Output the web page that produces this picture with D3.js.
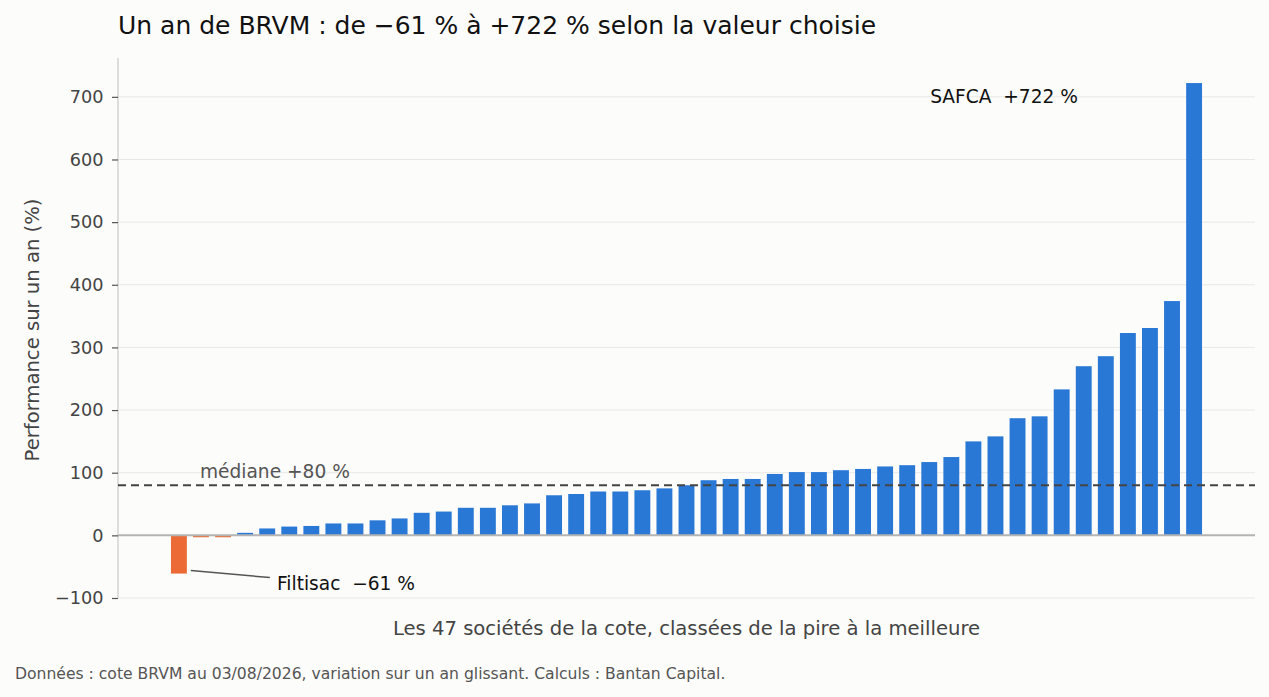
<!DOCTYPE html>
<html>
<head>
<meta charset="utf-8">
<script src="https://cdn.jsdelivr.net/npm/d3@7"></script>
<style>
  html, body { margin: 0; padding: 0; background: #fcfcfa; }
  svg { display: block; font-family: "DejaVu Sans", sans-serif; }
  text { white-space: pre; }
</style>
</head>
<body>
<svg id="chart" width="1269" height="697"></svg>
<script>
// one-year performance of every listed company, sorted worst to best (%)
const PERFORMANCE = [
  -61, -3, -3, 4, 11, 14, 15, 19, 19, 24, 27, 36, 38, 44, 44, 48, 51,
  64, 66, 70, 70, 72, 75, 80, 88, 90, 90, 98, 101, 101, 104, 106, 110,
  112, 117, 125, 150, 158, 187, 190, 233, 270, 286, 323, 331, 374, 722
];
const MEDIAN = 80;
const Y_TICKS = [-100, 0, 100, 200, 300, 400, 500, 600, 700];
const TITLE = "Un an de BRVM : de \u221261 % \u00e0 +722 % selon la valeur choisie";
const Y_LABEL = "Performance sur un an (%)";
const X_LABEL = "Les 47 soci\u00e9t\u00e9s de la cote, class\u00e9es de la pire \u00e0 la meilleure";
const SOURCE = "Donn\u00e9es : cote BRVM au 03/08/2026, variation sur un an glissant. Calculs : Bantan Capital.";
const BEST_LABEL = "SAFCA  +722 %";
const WORST_LABEL = "Filtisac  \u221261 %";
const MEDIAN_LABEL = "m\u00e9diane +80 %";

const BLUE = "#2a78d6";
const ORANGE = "#ec6a35";

const svg = d3.select("#chart");
const margin = { top: 58, right: 14, bottom: 99, left: 118 };
const width = 1269 - margin.left - margin.right;
const height = 697 - margin.top - margin.bottom;

const x = d3
  .scaleBand()
  .domain(PERFORMANCE.map((_d, i) => i))
  .range([0, width])
  .paddingInner(0.28)
  .paddingOuter(2.4);

const y = d3.scaleLinear().domain([-100, 762]).range([height, 0]);

const plot = svg.append("g").attr("transform", `translate(${margin.left},${margin.top})`);

// grid
plot
  .append("g")
  .selectAll("line")
  .data(Y_TICKS)
  .join("line")
  .attr("x1", 0)
  .attr("x2", width)
  .attr("y1", (d) => y(d))
  .attr("y2", (d) => y(d))
  .attr("stroke", "#e8e8e6")
  .attr("stroke-width", 1);

// y axis
const yAxis = plot
  .append("g")
  .call(
    d3
      .axisLeft(y)
      .tickValues(Y_TICKS)
      .tickSize(6)
      .tickPadding(8.5)
      .tickFormat((d) => (d < 0 ? "\u2212" + Math.abs(d) : d))
  );
yAxis.select(".domain").attr("stroke", "#d4d4d4").attr("stroke-width", 1.5).attr("d", `M0,${y(-100)}V0`);
yAxis.selectAll(".tick line").attr("stroke", "#555").attr("stroke-width", 1.2);
yAxis
  .selectAll(".tick text")
  .attr("fill", "#444")
  .style("font-size", "17.7px")
  .style("font-family", "DejaVu Sans, sans-serif");

// bars
plot
  .append("g")
  .selectAll("rect")
  .data(PERFORMANCE)
  .join("rect")
  .attr("x", (_d, i) => x(i))
  .attr("width", x.bandwidth())
  .attr("y", (d) => y(Math.max(0, d)))
  .attr("height", (d) => Math.abs(y(d) - y(0)))
  .attr("fill", (d) => (d < 0 ? ORANGE : BLUE));

// zero line
plot
  .append("line")
  .attr("x1", 0)
  .attr("x2", width)
  .attr("y1", y(0))
  .attr("y2", y(0))
  .attr("stroke", "#b4b4b4")
  .attr("stroke-width", 2);

// median
plot
  .append("line")
  .attr("x1", 0)
  .attr("x2", width)
  .attr("y1", y(MEDIAN))
  .attr("y2", y(MEDIAN))
  .attr("stroke", "#444")
  .attr("stroke-width", 2)
  .attr("stroke-dasharray", "8,5");

plot
  .append("text")
  .attr("x", x(0) + 29)
  .attr("y", y(MEDIAN) - 7)
  .attr("fill", "#555")
  .style("font-size", "18.6px")
  .text(MEDIAN_LABEL);

// annotations
const last = PERFORMANCE.length - 1;
plot
  .append("text")
  .attr("x", x(last) - 256)
  .attr("y", y(700))
  .attr("dy", "0.35em")
  .attr("fill", "#111")
  .style("font-size", "18.6px")
  .text(BEST_LABEL);

const worst = PERFORMANCE[0];
plot
  .append("line")
  .attr("x1", x(0) + x.bandwidth() + 4)
  .attr("y1", y(worst) - 3)
  .attr("x2", x(0) + x.bandwidth() + 83)
  .attr("y2", y(worst) + 4)
  .attr("stroke", "#555")
  .attr("stroke-width", 1.5);

plot
  .append("text")
  .attr("x", x(0) + 106)
  .attr("y", y(worst) + 10)
  .attr("dy", "0.35em")
  .attr("fill", "#111")
  .style("font-size", "18.6px")
  .text(WORST_LABEL);

// titles
svg
  .append("text")
  .attr("x", margin.left)
  .attr("y", 34)
  .attr("fill", "#111")
  .style("font-size", "25px")
  .text(TITLE);

svg
  .append("text")
  .attr("transform", "translate(39,330) rotate(-90)")
  .attr("text-anchor", "middle")
  .attr("fill", "#444")
  .style("font-size", "19.6px")
  .text(Y_LABEL);

svg
  .append("text")
  .attr("x", margin.left + width / 2)
  .attr("y", 635)
  .attr("text-anchor", "middle")
  .attr("fill", "#444")
  .style("font-size", "19.6px")
  .text(X_LABEL);

svg
  .append("text")
  .attr("x", 15)
  .attr("y", 679)
  .attr("fill", "#555")
  .style("font-size", "15.6px")
  .text(SOURCE);
</script>
</body>
</html>
